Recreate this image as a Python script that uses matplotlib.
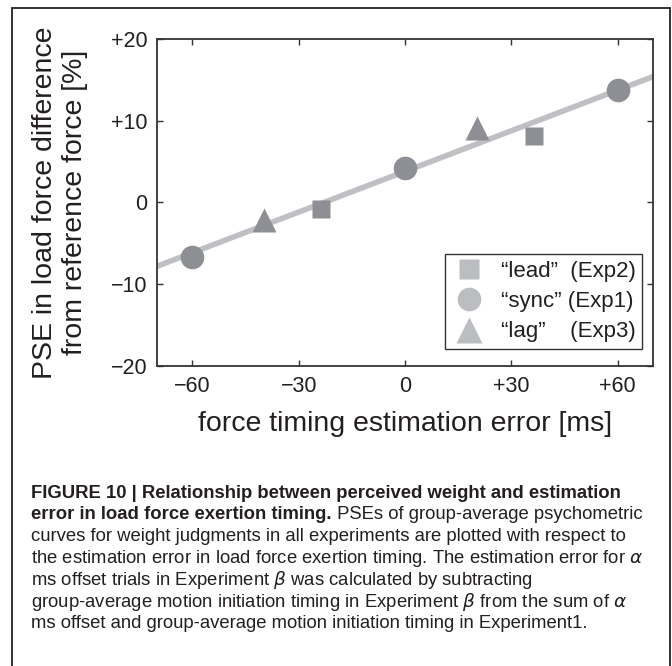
import matplotlib
matplotlib.use("Agg")
import matplotlib.pyplot as plt
from matplotlib.lines import Line2D
from matplotlib.patches import Rectangle

# --- DATA ---
sync_x = [-60, 0, 60]
sync_y = [-6.7, 4.2, 13.8]
lead_x = [-23.7, 36.3]
lead_y = [-0.8, 8.1]
lag_x = [-39.7, 20.3]
lag_y = [-2.1, 9.1]

fit_x = [-70, 70]
fit_y = [-7.8, 15.4]

x_ticks = [-60, -30, 0, 30, 60]
x_tick_labels = ["\u221260", "\u221230", "0", "+30", "+60"]
y_ticks = [-20, -10, 0, 10, 20]
y_tick_labels = ["\u221220", "\u221210", "0", "+10", "+20"]

legend_labels = ["\u201clead\u201d  (Exp2)", "\u201csync\u201d (Exp1)", "\u201clag\u201d    (Exp3)"]

caption_lines = [
    "the estimation error in load force exertion timing. The estimation error for $\\alpha$",
    "ms offset trials in Experiment $\\beta$ was calculated by subtracting",
    "group-average motion initiation timing in Experiment $\\beta$ from the sum of $\\alpha$",
    "ms offset and group-average motion initiation timing in Experiment1.",
]

# --- STYLE ---
plt.rcParams['font.family'] = ['Liberation Sans', 'DejaVu Sans']
plt.rcParams['mathtext.fontset'] = 'dejavusans'
mark_col = '#8e8f94'
leg_col = '#bcbdc1'
line_col = '#bfc0c4'
txt_col = '#231f20'

fig = plt.figure(figsize=(6.72, 6.66), dpi=100)
ax = fig.add_axes([0.2336, 0.4505, 0.7381, 0.4909])

ax.plot(fit_x, fit_y, color=line_col, lw=4, solid_capstyle='butt', zorder=1)
ax.plot(lead_x, lead_y, 's', color=mark_col, ms=13, mec='none', zorder=2)
ax.plot(sync_x, sync_y, 'o', color=mark_col, ms=17, mec='none', zorder=2)
ax.plot(lag_x, lag_y, '^', color=mark_col, ms=17, mec='none', zorder=2)

ax.set_xlim(-70, 70)
ax.set_ylim(-20, 20)
ax.set_xticks(x_ticks)
ax.set_xticklabels(x_tick_labels)
ax.set_yticks(y_ticks)
ax.set_yticklabels(y_tick_labels)
ax.tick_params(direction='in', top=True, right=True, length=4, width=1,
               labelsize=15.5, colors='#333333', labelcolor=txt_col, pad=7)
for sp in ax.spines.values():
    sp.set_linewidth(1.3)
    sp.set_color('#333333')

ax.set_xlabel("force timing estimation error [ms]", fontsize=20.5, color=txt_col, labelpad=10)
ax.set_ylabel("PSE in load force difference\nfrom reference force [%]", fontsize=20.5,
              color=txt_col, labelpad=16, linespacing=1.2)

handles = [
    Line2D([], [], ls='none', marker='s', ms=14, color=leg_col, mec='none'),
    Line2D([], [], ls='none', marker='o', ms=17, color=leg_col, mec='none'),
    Line2D([], [], ls='none', marker='^', ms=19, color=leg_col, mec='none'),
]
leg = ax.legend(handles, legend_labels, loc='lower right', bbox_to_anchor=(0.978, 0.052),
                borderaxespad=0, fontsize=16, labelspacing=0.42, handletextpad=0.6,
                handlelength=1.6, borderpad=0.3, fancybox=False, framealpha=1)
leg.get_frame().set_edgecolor('#333333')
leg.get_frame().set_linewidth(1.0)
for t in leg.get_texts():
    t.set_color(txt_col)

# --- outer frame ---
fig.patches.append(Rectangle((12 / 672, -0.05), (670 - 12) / 672, 1.05 - 8 / 666,
                             transform=fig.transFigure, fill=False, lw=1.3,
                             edgecolor='#222222'))

# --- caption ---
cap_font = ['Liberation Sans', 'DejaVu Sans']
cap_size = 13.3
x0 = 31 / 672
ys = [1 - (493 + 21.8 * i) / 666 for i in range(7)]
fig.text(x0, ys[0], "FIGURE 10 | Relationship between perceived weight and estimation",
         fontsize=cap_size, fontweight='bold', family=cap_font, va='center', color=txt_col)
b = fig.text(x0, ys[1], "error in load force exertion timing.", fontsize=cap_size,
             fontweight='bold', family=cap_font, va='center', color=txt_col)
fig.text(x0, ys[2], "curves for weight judgments in all experiments are plotted with respect to",
         fontsize=cap_size, family=cap_font, va='center', color=txt_col)
ax.annotate(" PSEs of group-average psychometric", xy=(1, 0.5), xycoords=b,
            va='center', ha='left', fontsize=cap_size, family=cap_font, color=txt_col,
            annotation_clip=False)
for i, line in enumerate(caption_lines):
    fig.text(x0, ys[3 + i], line, fontsize=cap_size, family=cap_font, va='center', color=txt_col)

fig.savefig("out.png", dpi=100)
